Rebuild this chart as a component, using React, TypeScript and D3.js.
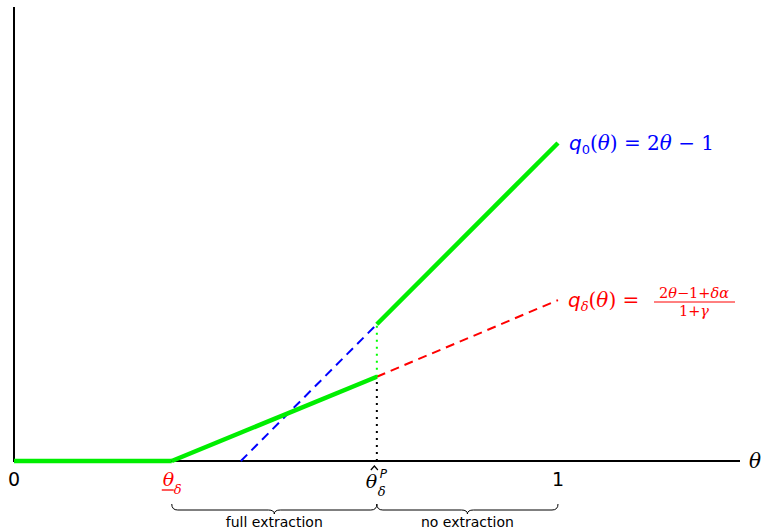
import React from "react";
import * as d3 from "d3";

const W = 763, H = 531;
const thetaLow = 0.29;     // underline theta_delta
const thetaHat = 0.667;    // hat theta^P_delta
const thetaZero = 0.417;   // zero of q0
const qHatLow = 0.265;     // q_delta at thetaHat
const qHatHigh = 0.43;     // q0 at thetaHat
const qDeltaAtOne = 0.506;

const greenFlat: [number, number][] = [[0, 0], [thetaLow, 0]];
const greenMid: [number, number][] = [[thetaLow, 0], [thetaHat, qHatLow]];
const greenTop: [number, number][] = [[thetaHat, qHatHigh], [1, 1]];
const blueDash: [number, number][] = [[thetaZero, 0], [thetaHat, qHatHigh]];
const redDash: [number, number][] = [[thetaHat, qHatLow], [1, qDeltaAtOne]];
const braces = [
  { from: thetaLow, to: thetaHat, label: "full extraction" },
  { from: thetaHat, to: 1, label: "no extraction" },
];

export default function App() {
  const x = d3.scaleLinear().domain([0, 1]).range([14, 558]);
  const y = d3.scaleLinear().domain([0, 1]).range([461, 143]);
  const line = d3.line<[number, number]>().x(d => x(d[0])).y(d => y(d[1]));
  const serif = "'DejaVu Serif', 'Liberation Serif', serif";
  const sans = "'DejaVu Sans', 'Open Sans', sans-serif";

  const bracePath = (a: number, b: number) => {
    const x0 = x(a), x1 = x(b), m = (x0 + x1) / 2;
    const yt = 504, yb = 510, tip = 514;
    return `M${x0},${yt} Q${x0},${yb} ${x0 + 6},${yb} L${m - 6},${yb} Q${m},${yb} ${m},${tip} Q${m},${yb} ${m + 6},${yb} L${x1 - 6},${yb} Q${x1},${yb} ${x1},${yt}`;
  };
  const hx = x(thetaHat);

  return (
    <svg width={W} height={H} style={{ display: "block", position: "absolute", left: 0, top: 0 }}>
      <rect width={W} height={H} fill="white" />
      {/* axes */}
      <line x1={14} y1={7} x2={14} y2={462} stroke="black" strokeWidth={2} />
      <line x1={13} y1={461} x2={740} y2={461} stroke="black" strokeWidth={2} />
      {/* dashed lines */}
      <path d={line(blueDash)!} stroke="#0000ff" strokeWidth={2} strokeDasharray="9,6" fill="none" />
      <path d={line(redDash)!} stroke="#ff0000" strokeWidth={2} strokeDasharray="9,6" fill="none" />
      {/* dotted verticals */}
      <line x1={hx} y1={y(0)} x2={hx} y2={y(qHatLow)} stroke="black" strokeWidth={2} strokeDasharray="2,5" />
      <line x1={hx} y1={y(qHatLow)} x2={hx} y2={y(qHatHigh)} stroke="#00ff00" strokeWidth={2} strokeDasharray="2,5" />
      {/* green */}
      {[greenFlat, greenMid, greenTop].map((s, i) => (
        <path key={i} d={line(s)!} stroke="#00ee00" strokeWidth={4.5} fill="none" />
      ))}
      {/* tick labels */}
      <text x={x(0)} y={486} fontFamily={sans} fontSize={19} textAnchor="middle">0</text>
      <text x={x(thetaLow) - 9} y={486} fontFamily={serif} fontStyle="italic" fontSize={19} fill="#ff0000">θ</text>
      <line x1={x(thetaLow) - 10} y1={490} x2={x(thetaLow) + 2} y2={490} stroke="#ff0000" strokeWidth={1.3} />
      <text x={x(thetaLow) + 2} y={494} fontFamily={serif} fontStyle="italic" fontSize={13} fill="#ff0000">δ</text>
      <text x={hx - 11} y={488} fontFamily={serif} fontStyle="italic" fontSize={19}>θ</text>
      <path d={`M${hx - 6},${470} L${hx - 2.5},${466} L${hx + 1},${470}`} stroke="black" strokeWidth={1.2} fill="none" />
      <text x={hx + 3} y={478} fontFamily={sans} fontStyle="italic" fontSize={12}>P</text>
      <text x={hx + 1} y={496} fontFamily={serif} fontStyle="italic" fontSize={13}>δ</text>
      <text x={x(1)} y={486} fontFamily={sans} fontSize={19} textAnchor="middle">1</text>
      <text x={749} y={468} fontFamily={serif} fontStyle="italic" fontSize={20}>θ</text>
      {/* braces */}
      {braces.map((b, i) => (
        <g key={i}>
          <path d={bracePath(b.from, b.to)} stroke="black" strokeWidth={1} fill="none" />
          <text x={(x(b.from) + x(b.to)) / 2} y={527} fontFamily={sans} fontSize={14} textAnchor="middle">{b.label}</text>
        </g>
      ))}
      {/* labels */}
      <text x={569} y={150} fontFamily={sans} fontSize={20} fill="#0000ff">
        <tspan fontStyle="italic">q</tspan><tspan fontSize={13} dy={4}>0</tspan><tspan dy={-4} fontFamily={serif}>(</tspan><tspan fontFamily={serif} fontStyle="italic">θ</tspan><tspan fontFamily={serif}>) = 2</tspan><tspan fontFamily={serif} fontStyle="italic">θ</tspan><tspan fontFamily={serif}> − 1</tspan>
      </text>
      <text x={568} y={307} fontFamily={sans} fontSize={20} fill="#ff0000">
        <tspan fontStyle="italic">q</tspan><tspan fontSize={13} dy={4} fontFamily={serif} fontStyle="italic">δ</tspan><tspan dy={-4} fontFamily={serif}>(</tspan><tspan fontFamily={serif} fontStyle="italic">θ</tspan><tspan fontFamily={serif}>) =</tspan>
      </text>
      <text x={694} y={298} fontFamily={serif} fontSize={14.5} fill="#ff0000" textAnchor="middle">2<tspan fontStyle="italic">θ</tspan>−1+<tspan fontStyle="italic">δα</tspan></text>
      <line x1={654} y1={302} x2={735} y2={302} stroke="#ff0000" strokeWidth={1} />
      <text x={694} y={316} fontFamily={serif} fontSize={14.5} fill="#ff0000" textAnchor="middle">1+<tspan fontStyle="italic">γ</tspan></text>
    </svg>
  );
}
